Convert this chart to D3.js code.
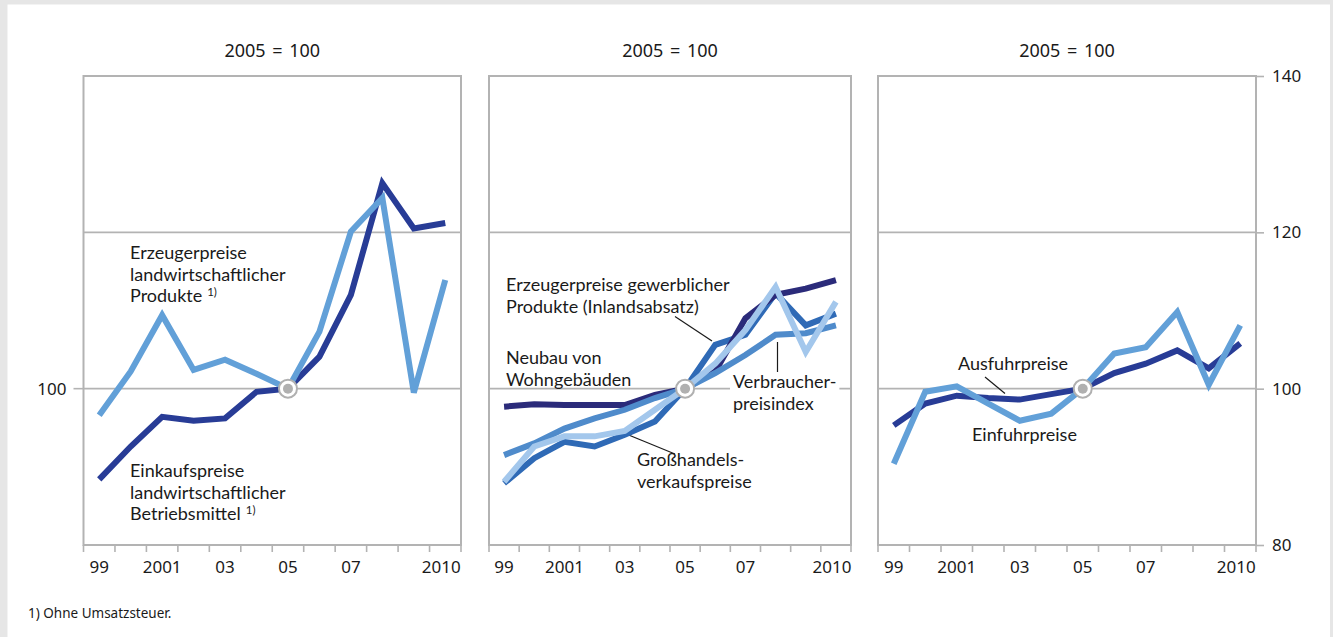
<!DOCTYPE html>
<html><head><meta charset="utf-8">
<script src="https://cdn.jsdelivr.net/npm/d3@7"></script>
<style>
html,body{margin:0;padding:0;background:#e6e6e6;}
svg{display:block;}
text{font-family:Lato,"Noto Sans",sans-serif;fill:#1a1a1a;}
text.num{font-family:"Noto Sans",sans-serif;}
</style></head>
<body>
<svg id="chart" width="1333" height="637"></svg>
<script>
const years = [1999,2000,2001,2002,2003,2004,2005,2006,2007,2008,2009,2010];
const xTickLabels = {1999:"99",2001:"2001",2003:"03",2005:"05",2007:"07",2010:"2010"};
const yTicks = [80,100,120,140];
const titles = ["2005 = 100","2005 = 100","2005 = 100"];

// Panel 1
const einkaufLandw = [88.4,92.6,96.4,95.9,96.2,99.6,100,104.1,112.0,126.3,120.5,121.2];
const erzeugerLandw = [96.6,102.2,109.4,102.4,103.7,101.9,100,107.3,120.1,124.4,99.5,113.9];
// Panel 2
const erzeugerGewerbl = [87.9,91.1,93.2,92.6,94.1,95.8,100,105.6,106.9,112.2,108.1,109.6];
const neubauWohn = [97.7,98.0,97.9,97.9,97.9,99.2,100,102.2,109.0,112.0,112.8,113.9];
const verbraucher = [91.5,93.0,94.9,96.2,97.3,98.8,100,102.0,104.3,106.9,107.1,108.1];
const grosshandel = [88.1,92.6,93.9,93.9,94.6,97.3,100,103.2,107.5,113.0,104.7,111.1];
// Panel 3
const ausfuhr = [95.3,98.1,99.1,98.8,98.6,99.3,100,102.0,103.2,104.9,102.6,105.8];
const einfuhr = [90.4,99.6,100.3,98.1,95.9,96.8,100,104.5,105.3,109.8,100.5,108.1];

const footnote = "1) Ohne Umsatzsteuer.";

const svg = d3.select("#chart");
svg.append("rect").attr("x",7.5).attr("y",4.5).attr("width",1322.5).attr("height",633).attr("fill","#fff");

const yTop = 76, yBot = 545;
const y = d3.scaleLinear().domain([80,140]).range([yBot, yTop]);

const panels = [
  {x0:83.5, x1:461, series:[
     {values:einkaufLandw, color:"#283c96"},
     {values:erzeugerLandw, color:"#62a0d8"}],
   labels:[
     {x:130, y:259, lines:["Erzeugerpreise","landwirtschaftlicher","Produkte"], sup:true},
     {x:130, y:477, lines:["Einkaufspreise","landwirtschaftlicher","Betriebsmittel"], sup:true}],
   leaders:[]},
  {x0:489, x1:851, series:[
     {values:erzeugerGewerbl, color:"#2f6ab6"},
     {values:neubauWohn, color:"#2b2b7a"},
     {values:verbraucher, color:"#4f8bcb"},
     {values:grosshandel, color:"#a3c7ec"}],
   labels:[
     {x:506, y:291, lines:["Erzeugerpreise gewerblicher","Produkte  (Inlandsabsatz)"]},
     {x:506, y:364, lines:["Neubau von","Wohngebäuden"]},
     {x:733, y:388, lines:["Verbraucher-","preisindex"], bg:true},
     {x:637, y:466, lines:["Großhandels-","verkaufspreise"]}],
   leaders:[[675,316.5,712,341],[777.5,342,777.5,372],[625,433.5,675,454]]},
  {x0:878, x1:1256, series:[
     {values:ausfuhr, color:"#283c96"},
     {values:einfuhr, color:"#62a0d8"}],
   labels:[
     {x:958, y:370, lines:["Ausfuhrpreise"]},
     {x:972, y:441, lines:["Einfuhrpreise"]}],
   leaders:[[985,377,1005,393.5]], rightAxis:true}
];

const gridCol = "#b3b3b3";

panels.forEach((p,pi) => {
  const x = d3.scaleBand().domain(years).range([p.x0,p.x1]);
  const g = svg.append("g");
  g.append("rect").attr("x",p.x0).attr("y",yTop).attr("width",p.x1-p.x0).attr("height",yBot-yTop)
    .attr("fill","none").attr("stroke",gridCol).attr("stroke-width",2);
  g.selectAll(".grid").data([100,120]).join("line")
    .attr("x1",p.x0).attr("x2",p.x1).attr("y1",d=>y(d)).attr("y2",d=>y(d))
    .attr("stroke",gridCol).attr("stroke-width",1.6);
  const tickPos = years.map(d=>x(d)).concat([p.x1]);
  g.selectAll(".xt").data(tickPos).join("line")
    .attr("x1",d=>d).attr("x2",d=>d).attr("y1",yBot).attr("y2",yBot+7)
    .attr("stroke",gridCol).attr("stroke-width",1.6);
  g.selectAll(".xl").data(years.filter(d=>xTickLabels[d])).join("text").attr("class","num")
    .attr("x",d=>x(d)+x.bandwidth()/2 + (d===2010?-4:0)).attr("y",573)
    .attr("text-anchor","middle").attr("font-size",17).text(d=>xTickLabels[d]);
  g.append("text").attr("class","num").attr("x",(p.x0+p.x1)/2).attr("y",57).attr("text-anchor","middle")
    .attr("font-size",18).attr("word-spacing",2).text(titles[pi]);
  p.labels.forEach(l => {
    const t = g.append("text").attr("font-size",18);
    l.lines.forEach((line,i) => {
      t.append("tspan").attr("x",l.x).attr("y",l.y+i*21.7).text(line);
    });
    if (l.sup) {
      t.append("tspan").attr("dx",5).attr("dy",-6).attr("font-size",11.5).text("1)");
    }
    if (l.bg) {
      const bb = t.node().getBBox();
      g.insert("rect", "text").attr("x",bb.x-3).attr("y",bb.y).attr("width",bb.width+6).attr("height",bb.height).attr("fill","#fff");
    }
  });
  g.selectAll(".ld").data(p.leaders).join("line")
    .attr("x1",d=>d[0]).attr("y1",d=>d[1]).attr("x2",d=>d[2]).attr("y2",d=>d[3])
    .attr("stroke","#1a1a1a").attr("stroke-width",1.2);
  const line = d3.line().x((d,i)=>x(years[i])+x.bandwidth()/2).y(d=>y(d));
  p.series.forEach(s => {
    g.append("path").attr("d",line(s.values)).attr("fill","none")
      .attr("stroke",s.color).attr("stroke-width",6).attr("stroke-linejoin","miter").attr("stroke-miterlimit",3);
  });
  const cx = x(2005)+x.bandwidth()/2, cy = y(100);
  g.append("circle").attr("cx",cx).attr("cy",cy).attr("r",9).attr("fill","#fff").attr("stroke","#b0b0b0").attr("stroke-width",2);
  g.append("circle").attr("cx",cx).attr("cy",cy).attr("r",5).attr("fill","#b0b0b0");
  if (pi===0) {
    g.append("line").attr("x1",p.x0-10).attr("x2",p.x0).attr("y1",y(100)).attr("y2",y(100)).attr("stroke",gridCol).attr("stroke-width",1.6);
    g.append("text").attr("class","num").attr("x",p.x0-17).attr("y",y(100)).attr("dy","0.35em").attr("text-anchor","end").attr("font-size",17).text("100");
  }
  if (p.rightAxis) {
    const ax = g.append("g").attr("transform",`translate(${p.x1},0)`)
      .call(d3.axisRight(y).tickValues(yTicks).tickSize(8).tickPadding(8));
    ax.select(".domain").remove();
    ax.selectAll("line").attr("stroke",gridCol).attr("stroke-width",1.6);
    ax.selectAll("text").attr("class","num").attr("font-size",17).attr("font-family","'Noto Sans',sans-serif").attr("fill","#1a1a1a");
  }
});

svg.append("text").attr("class","num").attr("x",28).attr("y",618).attr("font-size",13.5).text(footnote);
</script>
</body></html>
